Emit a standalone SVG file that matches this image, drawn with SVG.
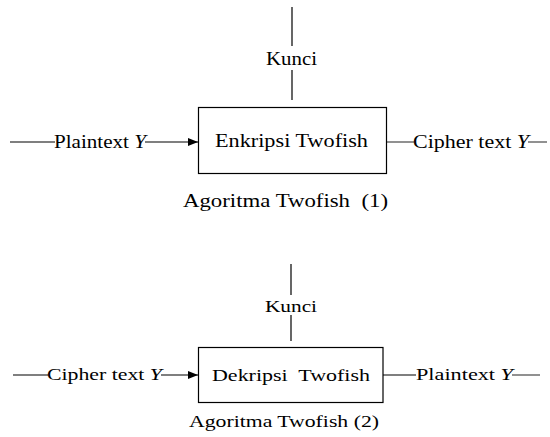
<svg xmlns="http://www.w3.org/2000/svg" width="550" height="437" viewBox="0 0 550 437">
<style>
text{font-family:"Liberation Serif","Times New Roman",serif;fill:#000;white-space:pre}
.t1{font-size:18px}
.t2{font-size:17px}
.h{stroke:#555;stroke-width:1.3;fill:none}
.v{stroke:#000;stroke-width:1.2;fill:none}
.box{fill:#fff;stroke:#000;stroke-width:1.2}
</style>
<defs>
<marker id="arr" markerWidth="10" markerHeight="8" refX="10" refY="4" orient="auto" markerUnits="userSpaceOnUse">
<path d="M0,0 L10,4 L0,8 Z" fill="#000"/>
</marker>
</defs>
<rect width="550" height="437" fill="#fff"/>
<g id="connectors">
<line class="v" x1="292" y1="7" x2="292" y2="46"/>
<line class="v" x1="292" y1="70" x2="292" y2="100"/>
<line class="h" x1="10" y1="142" x2="55" y2="142"/>
<line class="h" x1="145" y1="142" x2="198" y2="142" marker-end="url(#arr)"/>
<line class="h" x1="386" y1="142" x2="414" y2="142"/>
<line class="h" x1="528" y1="142" x2="547" y2="142"/>
<line class="v" x1="291" y1="264" x2="291" y2="295"/>
<line class="v" x1="291" y1="315" x2="291" y2="341"/>
<line class="h" x1="13" y1="375" x2="48" y2="375"/>
<line class="h" x1="161" y1="375" x2="198" y2="375" marker-end="url(#arr)"/>
<line class="h" x1="383" y1="375" x2="416" y2="375"/>
<line class="h" x1="512" y1="375" x2="540" y2="375"/>
</g>
<g id="enkripsi">
<rect class="box" x="198.5" y="107.5" width="188" height="66"/>
<text class="t1" x="215" y="147" textLength="153" lengthAdjust="spacingAndGlyphs">Enkripsi Twofish</text>
</g>
<g id="labels1">
<text class="t1" x="266" y="65" textLength="51" lengthAdjust="spacingAndGlyphs">Kunci</text>
<text class="t1" x="54" y="148" textLength="92" lengthAdjust="spacingAndGlyphs">Plaintext <tspan font-style="italic">Y</tspan></text>
<text class="t1" x="413" y="148" textLength="116" lengthAdjust="spacingAndGlyphs">Cipher text <tspan font-style="italic">Y</tspan></text>
<text class="t1" x="183" y="207" textLength="205" lengthAdjust="spacingAndGlyphs">Agoritma Twofish  (1)</text>
</g>
<g id="dekripsi">
<rect class="box" x="198.5" y="347.5" width="184.5" height="55"/>
<text class="t2" x="212" y="381" textLength="158" lengthAdjust="spacingAndGlyphs">Dekripsi  Twofish</text>
</g>
<g id="labels2">
<text class="t2" x="265" y="312" textLength="52" lengthAdjust="spacingAndGlyphs">Kunci</text>
<text class="t2" x="47" y="380" textLength="115" lengthAdjust="spacingAndGlyphs">Cipher text <tspan font-style="italic">Y</tspan></text>
<text class="t2" x="416" y="380" textLength="97" lengthAdjust="spacingAndGlyphs">Plaintext <tspan font-style="italic">Y</tspan></text>
<text class="t2" x="189" y="427" textLength="190" lengthAdjust="spacingAndGlyphs">Agoritma Twofish (2)</text>
</g>
</svg>
